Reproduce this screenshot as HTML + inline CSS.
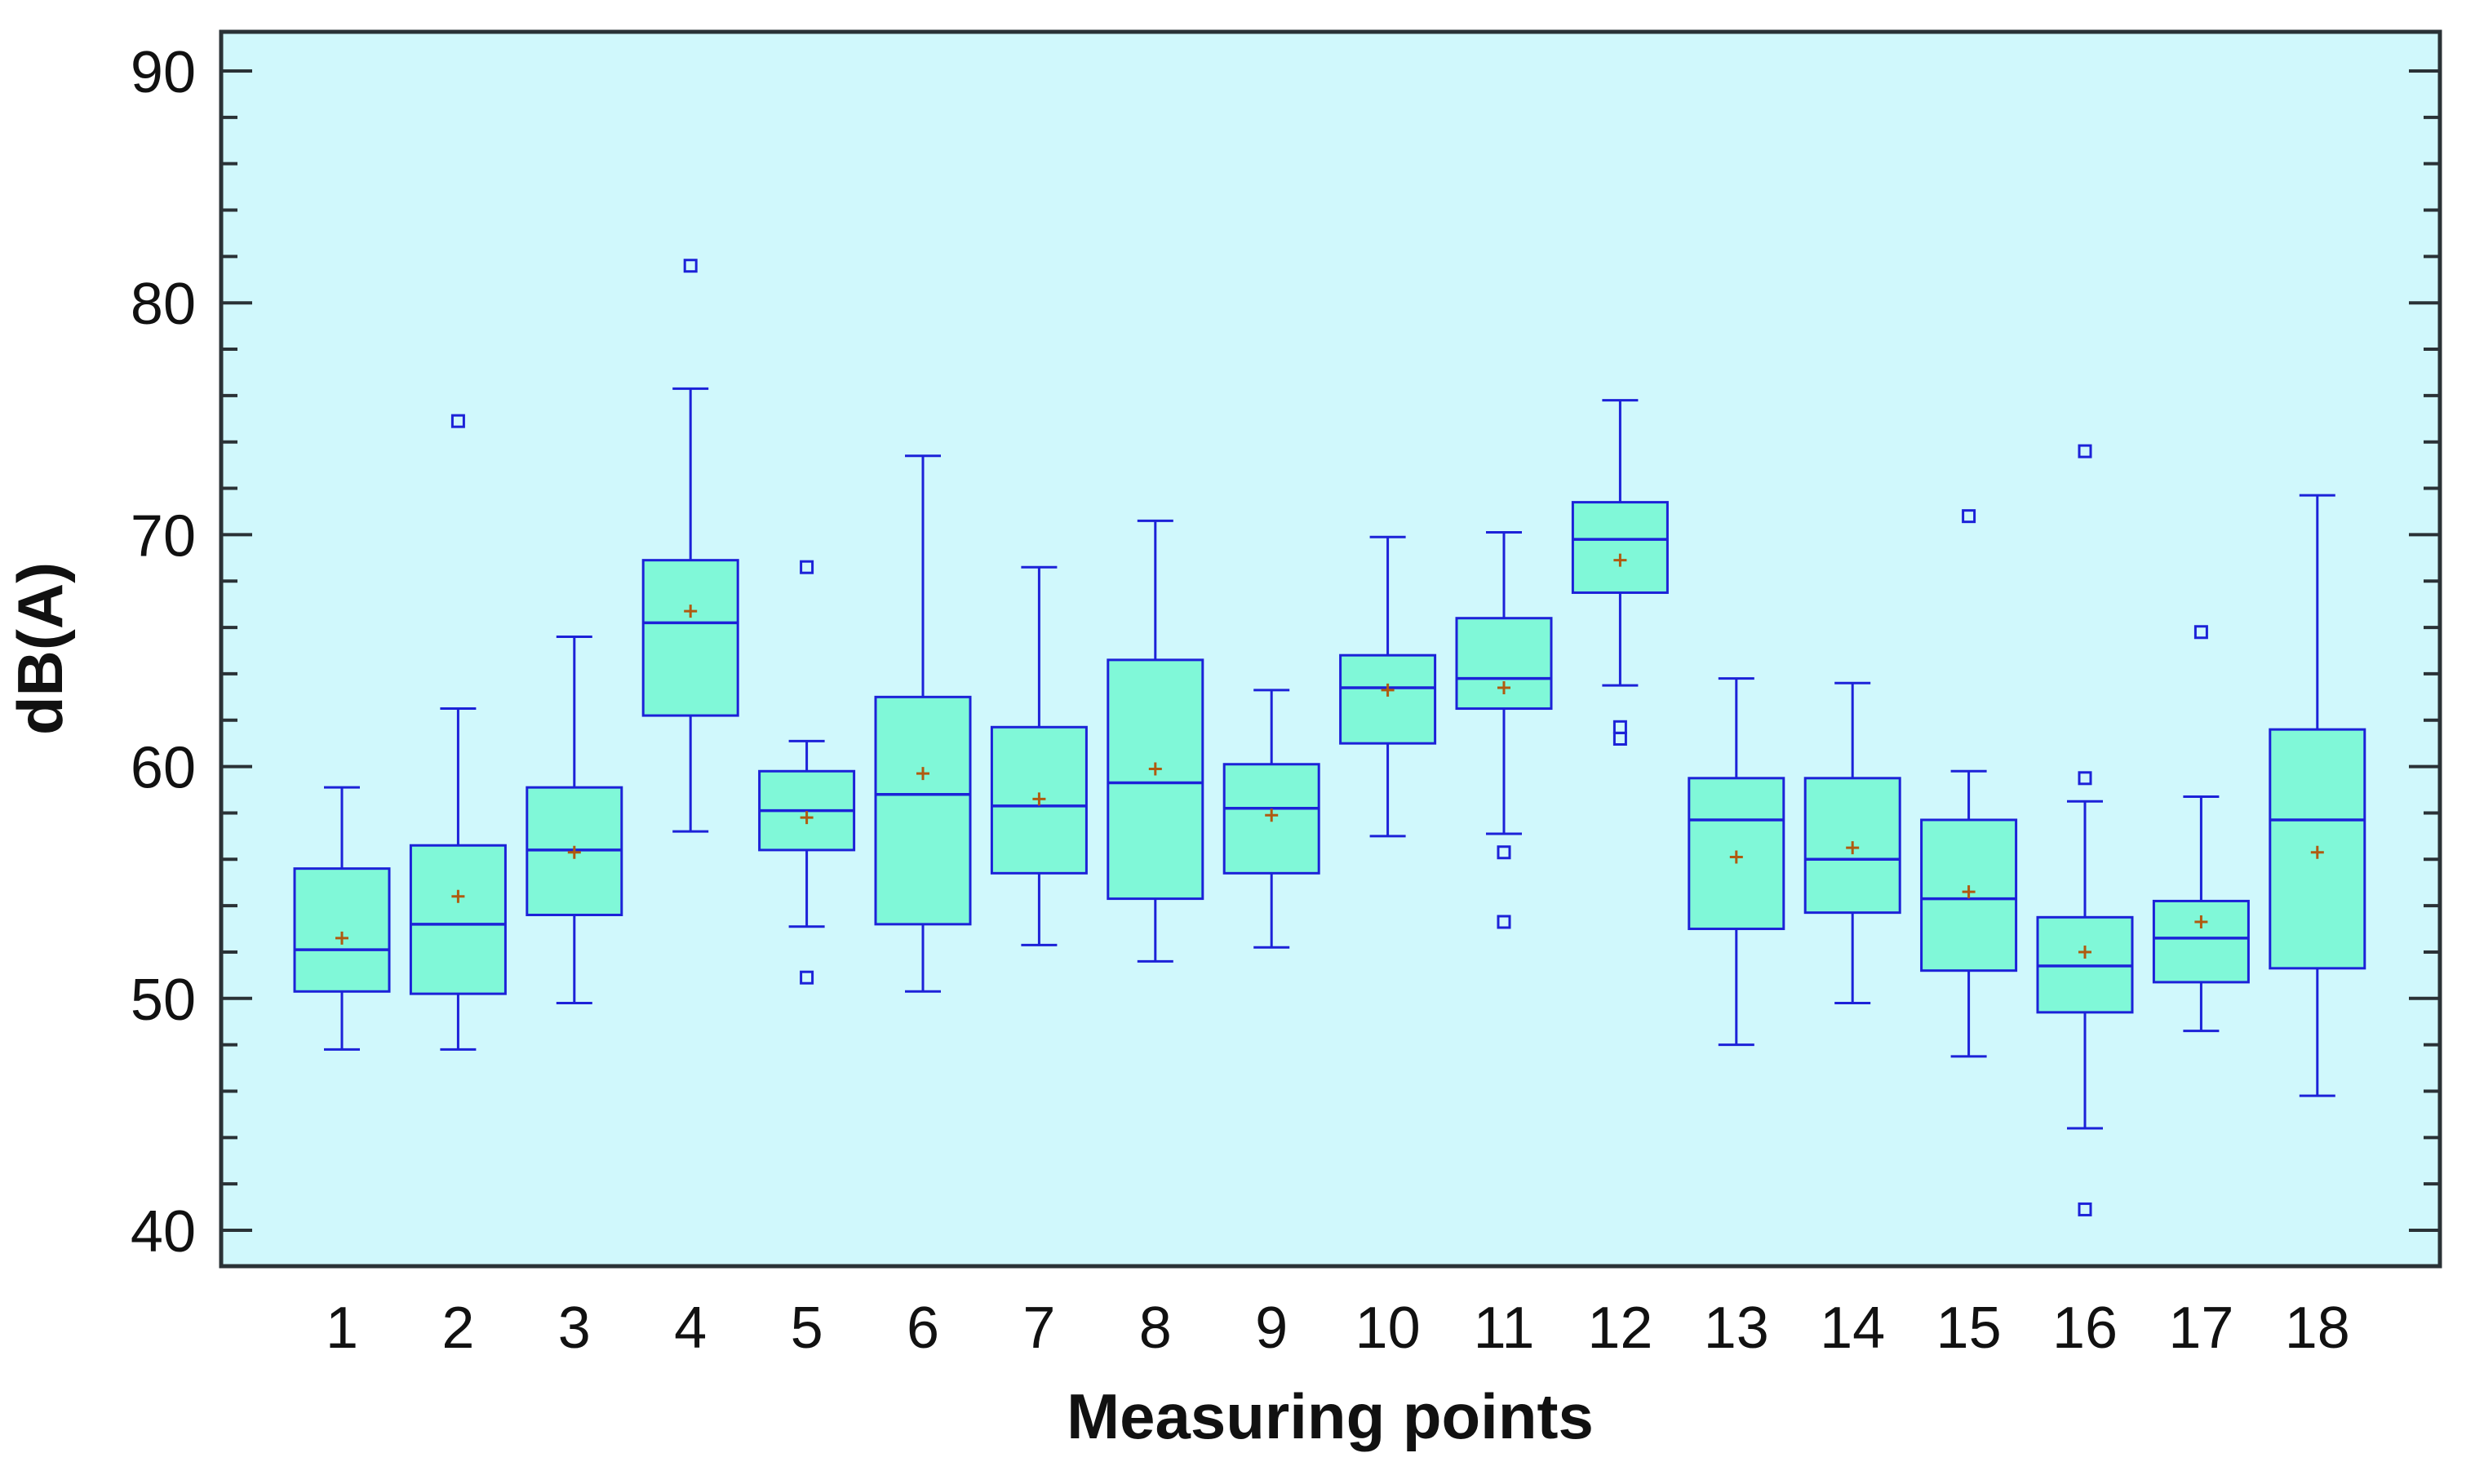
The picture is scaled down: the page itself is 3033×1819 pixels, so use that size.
<!DOCTYPE html>
<html><head><meta charset="utf-8">
<style>
html,body{margin:0;padding:0;background:#fff;}
svg{display:block;}
text{font-family:"Liberation Sans",Arial,sans-serif;fill:#111;}
</style></head>
<body>
<svg id="chart" width="3033" height="1819" viewBox="0 0 3033 1819" xmlns="http://www.w3.org/2000/svg">
<rect x="271" y="39" width="2719" height="1513" fill="#d0f8fc"/>
<g id="marks"></g>
<g id="axes"></g>
<rect x="271" y="39" width="2719" height="1513" fill="none" stroke="#2a3236" stroke-width="5"/>
<text x="1630" y="1763" font-size="78" font-weight="bold" text-anchor="middle">Measuring points</text>
<text transform="translate(76,795) rotate(-90)" font-size="78" font-weight="bold" text-anchor="middle">dB(A)</text>
</svg>
<script>
const categories = ["1","2","3","4","5","6","7","8","9","10","11","12","13","14","15","16","17","18"];
const whiskerLow = [47.8,47.8,49.8,57.2,53.1,50.3,52.3,51.6,52.2,57.0,57.1,63.5,48.0,49.8,47.5,44.4,48.6,45.8];
const q1 = [50.3,50.2,53.6,62.2,56.4,53.2,55.4,54.3,55.4,61.0,62.5,67.5,53.0,53.7,51.2,49.4,50.7,51.3];
const median = [52.1,53.2,56.4,66.2,58.1,58.8,58.3,59.3,58.2,63.4,63.8,69.8,57.7,56.0,54.3,51.4,52.6,57.7];
const q3 = [55.6,56.6,59.1,68.9,59.8,63.0,61.7,64.6,60.1,64.8,66.4,71.4,59.5,59.5,57.7,53.5,54.2,61.6];
const whiskerHigh = [59.1,62.5,65.6,76.3,61.1,73.4,68.6,70.6,63.3,69.9,70.1,75.8,63.8,63.6,59.8,58.5,58.7,71.7];
const means = [52.6,54.4,56.3,66.7,57.8,59.7,58.6,59.9,57.9,63.3,63.4,68.9,56.1,56.5,54.6,52.0,53.3,56.3];
const outliers = [[],[74.9],[],[81.6],[68.6,50.9],[],[],[],[],[],[56.3,53.3],[61.7,61.2],[],[],[70.8],[73.6,59.5,40.9],[65.8],[]];
const yTicks = [40,50,60,70,80,90];
const yMinor = [42,44,46,48,52,54,56,58,62,64,66,68,72,74,76,78,82,84,86,88];

const NS="http://www.w3.org/2000/svg";
const X0=419, DX=142.4, Y90=87, PER=28.42;
function xs(i){return X0+i*DX;}
function ys(v){return Y90+(90-v)*PER;}
function mk(tag,attrs,parent){const e=document.createElementNS(NS,tag);for(const k in attrs)e.setAttribute(k,attrs[k]);parent.appendChild(e);return e;}
const marks=document.getElementById('marks'), axes=document.getElementById('axes');
const BLUE="#1c22d8", BW=116, CAP=44;
categories.forEach((c,i)=>{
  const g=mk('g',{},marks);
  
  
  const x=xs(i);
  const w1=mk('line',{x1:x,x2:x,y1:ys(whiskerLow[i]),y2:ys(q1[i]),stroke:BLUE,'stroke-width':3},g);
  
  
  const w2=mk('line',{x1:x,x2:x,y1:ys(q3[i]),y2:ys(whiskerHigh[i]),stroke:BLUE,'stroke-width':3},g);
  
  
  const c1=mk('line',{x1:x-CAP/2,x2:x+CAP/2,y1:ys(whiskerLow[i]),y2:ys(whiskerLow[i]),stroke:BLUE,'stroke-width':3},g);
  
  
  const c2=mk('line',{x1:x-CAP/2,x2:x+CAP/2,y1:ys(whiskerHigh[i]),y2:ys(whiskerHigh[i]),stroke:BLUE,'stroke-width':3},g);
  
  
  const b=mk('rect',{x:x-BW/2,y:ys(q3[i]),width:BW,height:ys(q1[i])-ys(q3[i]),fill:"#80f8d8",stroke:BLUE,'stroke-width':3},g);
  
  
  const m=mk('line',{x1:x-BW/2,x2:x+BW/2,y1:ys(median[i]),y2:ys(median[i]),stroke:BLUE,'stroke-width':3.5},g);
  
  
  const my=ys(means[i]);
  const p=mk('path',{d:`M${x-8},${my}H${x+8}M${x},${my-8}V${my+8}`,stroke:"#b05a10",'stroke-width':3,fill:'none'},g);
  
  
  outliers[i].forEach(v=>{
    const o=mk('rect',{x:x-7,y:ys(v)-7,width:14,height:14,fill:'none',stroke:BLUE,'stroke-width':3},g);
    
    
  });
  const t=mk('text',{x:x,y:1652,'font-size':72,'text-anchor':'middle'},axes);
  t.textContent=c;
  
  
});
yTicks.forEach(v=>{
  const y=ys(v);
  const l=mk('path',{d:`M271,${y}h38M2990,${y}h-38`,stroke:'#2a3236','stroke-width':4},axes);
  
  
  const t=mk('text',{x:240,y:y+26,'font-size':72,'text-anchor':'end'},axes);
  t.textContent=v;
  
  
});
yMinor.forEach(v=>{
  const y=ys(v);
  const l=mk('path',{d:`M271,${y}h20M2990,${y}h-20`,stroke:'#2a3236','stroke-width':4},axes);
  
  
});
</script>
</body></html>
